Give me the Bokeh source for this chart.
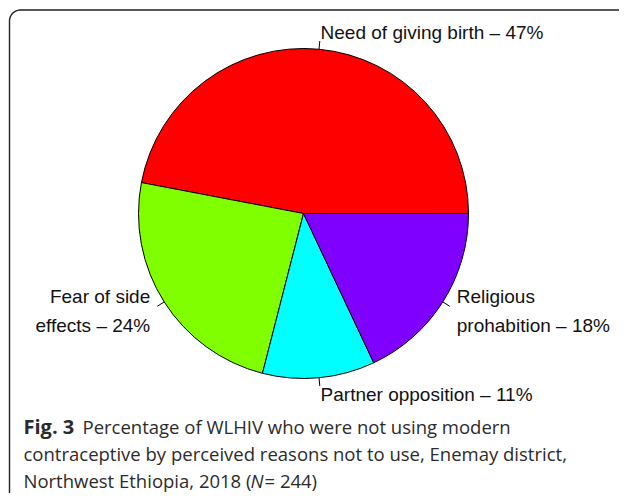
import numpy as np
from bokeh.plotting import figure
from bokeh.models import Range1d, ColumnDataSource
from bokeh.core.properties import value
from bokeh.embed import file_html
from bokeh.resources import INLINE

# ---- data ----
labels = ["Need of giving birth \u2013 47%", "Fear of side\neffects \u2013 24%",
          "Partner opposition \u2013 11%", "Religious\nprohabition \u2013 18%"]
percent = [47, 24, 11, 18]
colors = ["#FF0000", "#80FF00", "#00FFFF", "#8000FF"]

W, H = 619, 493
p = figure(width=W, height=H, output_backend="svg", toolbar_location=None,
           x_range=Range1d(0, W), y_range=Range1d(0, H), min_border=0)
p.axis.visible = False
p.grid.visible = False
p.outline_line_color = None
p.background_fill_color = "white"
p.border_fill_color = "white"

# frame (left + top edges with rounded corner)
rc = 11
x0, y0 = 9, H - 9.5
t = np.linspace(np.pi, np.pi / 2, 20)
fx = [x0] + list(x0 + rc + rc * np.cos(t)) + [W + 5]
fy = [-5] + list(y0 - rc + rc * np.sin(t)) + [y0]
p.line(fx, fy, line_color="#222222", line_width=1.4)

# pie
cx, cy, r = 303, H - 213, 165
vals = np.array(percent, dtype=float)
frac = vals / vals.sum()
ends = np.cumsum(frac) * 2 * np.pi
starts = ends - frac * 2 * np.pi
mids = (starts + ends) / 2
src = ColumnDataSource(dict(start=starts, end=ends, color=colors))
p.wedge(x=cx, y=cy, radius=r, start_angle="start", end_angle="end",
        fill_color="color", line_color="black", line_width=1, source=src)

# tick lines
p.segment(x0=cx + r * np.cos(mids), y0=cy + r * np.sin(mids),
          x1=cx + 1.05 * r * np.cos(mids), y1=cy + 1.05 * r * np.sin(mids),
          line_color="black", line_width=1)

lx = cx + 1.1 * r * np.cos(mids)
ly = cy + 1.1 * r * np.sin(mids)
align = ["left" if c > 0 else "right" for c in np.cos(mids)]
lsrc = ColumnDataSource(dict(x=lx, y=ly, t=labels, a=align))
p.text(x="x", y="y", text="t", text_align="a", text_baseline="middle",
       text_font=value("Liberation Sans"), text_font_size="19px",
       text_color="#111111", text_line_height=1.4, source=lsrc)

# caption
cap_font = value("Open Sans")
cap_size = "18.5px"
cc = "#2b2b2b"
b1, b2, b3 = 426, 453, 480
p.text(x=[23], y=[H - b1], text=["Fig. 3"], text_font=cap_font, text_font_size="20px",
       text_font_style="bold", text_baseline="alphabetic", text_color=cc)
p.text(x=[82], y=[H - b1], text=["Percentage of WLHIV who were not using modern"],
       text_font=cap_font, text_font_size=cap_size, text_baseline="alphabetic", text_color=cc)
p.text(x=[23], y=[H - b2],
       text=["contraceptive by perceived reasons not to use, Enemay district,"],
       text_font=cap_font, text_font_size=cap_size, text_baseline="alphabetic", text_color=cc)
p.text(x=[23], y=[H - b3], text=["Northwest Ethiopia, 2018 ("],
       text_font=cap_font, text_font_size=cap_size, text_baseline="alphabetic", text_color=cc)
p.text(x=[250], y=[H - b3], text=["N"], text_font=cap_font, text_font_size=cap_size,
       text_font_style="italic", text_baseline="alphabetic", text_color=cc)
p.text(x=[264], y=[H - b3], text=["= 244)"], text_font=cap_font, text_font_size=cap_size,
       text_baseline="alphabetic", text_color=cc)

open("out.html", "w").write(file_html(p, INLINE))
